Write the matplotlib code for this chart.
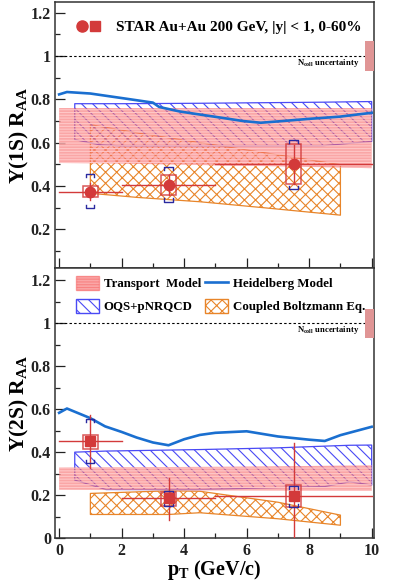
import matplotlib
matplotlib.use("Agg")
import matplotlib.pyplot as plt
import numpy as np
from matplotlib.patches import Rectangle, Patch
from matplotlib.lines import Line2D
from matplotlib.legend_handler import HandlerTuple
from matplotlib.ticker import MultipleLocator, FuncFormatter

plt.rcParams['font.family'] = ['Liberation Serif', 'DejaVu Serif']
plt.rcParams['font.weight'] = 'bold'
plt.rcParams['mathtext.fontset'] = 'custom'
plt.rcParams['mathtext.rm'] = 'Liberation Serif:bold'
plt.rcParams['mathtext.it'] = 'Liberation Serif:bold:italic'
plt.rcParams['mathtext.bf'] = 'Liberation Serif:bold'
plt.rcParams['hatch.linewidth'] = 0.8

# ---------------- data ----------------
pt = [1.0, 3.5, 7.5]
pt_lo = [0.0, 2.0, 5.0]
pt_hi = [2.0, 5.0, 10.0]

# Upsilon(1S)
raa1 = [0.373, 0.405, 0.50]
stat1 = [0.04, 0.045, 0.09]
sys1_lo = [0.35, 0.358, 0.409]
sys1_hi = [0.40, 0.452, 0.595]
ncs1_lo = [0.298, 0.327, 0.386]
ncs1_hi = [0.456, 0.488, 0.614]

# Upsilon(2S)
raa2 = [0.45, 0.185, 0.197]
stat2_lo = [0.326, 0.085, 0.0]
stat2_hi = [0.572, 0.279, 0.443]
sys2_lo = [0.415, 0.150, 0.143]
sys2_hi = [0.480, 0.215, 0.248]
ncs2_lo = [0.349, 0.149, 0.144]
ncs2_hi = [0.553, 0.220, 0.243]

ncoll_unc = 0.068

# Models, Upsilon(1S)
heid1_pt = [0.0, 0.25, 1.0, 2.15, 3.0, 3.2, 3.86, 4.5, 5.2, 5.88, 6.45, 7.16, 8.0, 8.97, 10.0]
heid1_r = [0.823, 0.834, 0.827, 0.803, 0.785, 0.765, 0.744, 0.73, 0.715, 0.70, 0.692, 0.70, 0.71, 0.72, 0.738]

oqs1_pt = [0.5, 1.3, 2.0, 4.5, 8.45, 10.0]
oqs1_lo = [0.614, 0.59, 0.585, 0.585, 0.586, 0.606]
oqs1_hi = [0.780, 0.780, 0.780, 0.782, 0.787, 0.790]

trans1_pt = [0.0, 2.0, 4.0, 6.0, 8.0, 10.0]
trans1_lo = [0.506, 0.503, 0.498, 0.493, 0.488, 0.482]
trans1_hi = [0.760, 0.760, 0.760, 0.760, 0.760, 0.760]

cbe1_pt = [1.0, 2.5, 4.5, 6.5, 9.0]
cbe1_lo = [0.366, 0.347, 0.327, 0.300, 0.265]
cbe1_hi = [0.683, 0.645, 0.600, 0.555, 0.498]

# Models, Upsilon(2S)
heid2_pt = [0.0, 0.25, 1.0, 1.47, 2.0, 2.48, 3.0, 3.5, 4.0, 4.5, 5.0, 6.0, 7.0, 8.0, 8.5, 9.0, 10.0]
heid2_r = [0.583, 0.603, 0.558, 0.52, 0.494, 0.468, 0.445, 0.432, 0.46, 0.48, 0.49, 0.497, 0.473, 0.458, 0.452, 0.479, 0.518]

oqs2_pt = [0.5, 1.5, 4.5, 7.0, 8.5, 9.3, 10.0]
oqs2_lo = [0.270, 0.226, 0.226, 0.235, 0.240, 0.262, 0.247]
oqs2_hi = [0.400, 0.405, 0.412, 0.420, 0.428, 0.432, 0.433]

trans2_pt = [0.0, 5.0, 10.0]
trans2_lo = [0.225, 0.222, 0.220]
trans2_hi = [0.328, 0.332, 0.338]

cbe2_pt = [1.0, 3.5, 4.5, 7.0, 9.0]
cbe2_lo = [0.110, 0.110, 0.118, 0.090, 0.060]
cbe2_hi = [0.208, 0.220, 0.218, 0.167, 0.107]

# ---------------- style ----------------
RED = '#d33a3a'
NAVY = '#2a2aa0'
BLUE_LINE = '#1a6fd0'
OQS_C = '#4a4af5'
ORANGE = '#e8852a'
TRANS_FACE = (0.97, 0.42, 0.42, 0.6)
TRANS_HATCH = (1.0, 0.78, 0.78)
NCOLL_C = '#e09595'

fig = plt.figure(figsize=(3.99, 5.83), dpi=100)
ax1 = fig.add_axes([0.138, 0.540, 0.799, 0.4566])
ax2 = fig.add_axes([0.138, 0.077, 0.799, 0.463])

XLIM = (-0.13, 10.07)
box_hw = 0.25
br_hw = 0.13
br_tick = 0.015


def draw_models(ax, cbe_pt, cbe_lo, cbe_hi, oqs_pt, oqs_lo, oqs_hi,
                tr_pt, tr_lo, tr_hi, h_pt, h_r):
    ax.fill_between(cbe_pt, cbe_lo, cbe_hi, facecolor='none', edgecolor=ORANGE,
                    hatch='xxx', linewidth=0.9, zorder=1)
    ax.fill_between(oqs_pt, oqs_lo, oqs_hi, facecolor='none', edgecolor=OQS_C,
                    hatch='\\\\\\', linewidth=0.9, zorder=2)
    ax.fill_between(tr_pt, tr_lo, tr_hi, facecolor=TRANS_FACE, edgecolor=TRANS_HATCH,
                    hatch='------', linewidth=0, zorder=3)
    ax.plot(h_pt, h_r, color=BLUE_LINE, lw=1.9, zorder=4)


def draw_data(ax, r, s_lo, s_hi, y_lo, y_hi, n_lo, n_hi, marker):
    for i in range(len(pt)):
        ax.plot([pt_lo[i], pt_hi[i]], [r[i], r[i]], color=RED, lw=1.0, zorder=6)
        ax.plot([pt[i], pt[i]], [s_lo[i], s_hi[i]], color=RED, lw=1.0, zorder=6)
        ax.add_patch(Rectangle((pt[i] - box_hw, y_lo[i]), 2 * box_hw, y_hi[i] - y_lo[i],
                               facecolor='none', edgecolor=RED, lw=1.1, alpha=0.85, zorder=6))
        # blue brackets
        ax.plot([pt[i] - br_hw, pt[i] - br_hw, pt[i] + br_hw, pt[i] + br_hw],
                [n_hi[i] - br_tick, n_hi[i], n_hi[i], n_hi[i] - br_tick], color=NAVY, lw=1.0, zorder=6)
        ax.plot([pt[i] - br_hw, pt[i] - br_hw, pt[i] + br_hw, pt[i] + br_hw],
                [n_lo[i] + br_tick, n_lo[i], n_lo[i], n_lo[i] + br_tick], color=NAVY, lw=1.0, zorder=6)
    ax.plot(pt, r, ls='none', marker=marker, ms=7.5 if marker == 'o' else 7,
            color=RED, mec=RED, zorder=7)


def style_axis(ax, ylim, show_x):
    ax.set_xlim(*XLIM)
    ax.set_ylim(*ylim)
    ax.xaxis.set_major_locator(MultipleLocator(2))
    ax.xaxis.set_minor_locator(MultipleLocator(1))
    ax.yaxis.set_major_locator(MultipleLocator(0.2))
    ax.yaxis.set_minor_locator(MultipleLocator(0.1))
    ax.yaxis.set_major_formatter(FuncFormatter(lambda v, p: '%g' % round(v, 3)))
    ax.xaxis.set_major_formatter(FuncFormatter(lambda v, p: '%g' % round(v, 3)))
    ax.tick_params(which='both', direction='in', top=False, right=False,
                   labelsize=11.5, width=0.9, colors='#222222')
    ax.tick_params(which='major', length=7)
    ax.tick_params(which='minor', length=3.5)
    ax.tick_params(axis='y', pad=3)
    for lab in ax.get_xticklabels() + ax.get_yticklabels():
        lab.set_fontweight('bold')
    if not show_x:
        ax.tick_params(axis='x', labelbottom=False)
    for sp in ax.spines.values():
        sp.set_linewidth(1.1)
        sp.set_color('#333333')
    ax.axhline(1.0, color='black', ls=(0, (2.2, 2.0)), lw=0.8, zorder=5)
    ax.fill_between([9.78, XLIM[1]], 1 - ncoll_unc, 1 + ncoll_unc, color=NCOLL_C,
                    linewidth=0, zorder=5)
    ax.text(8.6, 0.97, r'N$_{\rm coll}$ uncertainty', fontsize=6.2, fontweight='bold',
            ha='center', va='center', zorder=6)


# Top panel
draw_models(ax1, cbe1_pt, cbe1_lo, cbe1_hi, oqs1_pt, oqs1_lo, oqs1_hi,
            trans1_pt, trans1_lo, trans1_hi, heid1_pt, heid1_r)
draw_data(ax1, raa1, [r - s for r, s in zip(raa1, stat1)], [r + s for r, s in zip(raa1, stat1)],
          sys1_lo, sys1_hi, ncs1_lo, ncs1_hi, 'o')
style_axis(ax1, (0.02, 1.25), False)
ax1.set_ylabel('Υ(1S) R$_{\\rm AA}$', fontsize=15.5, fontweight='bold', labelpad=0)

# Bottom panel
draw_models(ax2, cbe2_pt, cbe2_lo, cbe2_hi, oqs2_pt, oqs2_lo, oqs2_hi,
            trans2_pt, trans2_lo, trans2_hi, heid2_pt, heid2_r)
draw_data(ax2, raa2, stat2_lo, stat2_hi, sys2_lo, sys2_hi, ncs2_lo, ncs2_hi, 's')
style_axis(ax2, (0.0, 1.256), True)
ax2.set_ylabel('Υ(2S) R$_{\\rm AA}$', fontsize=15.5, fontweight='bold', labelpad=0)
ax2.set_xlabel(r'p$_{\rm T}$ (GeV/c)', fontsize=14.5, fontweight='bold', labelpad=-1)

# STAR legend (top)
h_c = Line2D([], [], ls='none', marker='o', ms=8, color=RED)
h_s = Line2D([], [], ls='none', marker='s', ms=7, color=RED)
leg1 = ax1.legend([(h_c, h_s)], ['STAR Au+Au 200 GeV, |y| < 1, 0-60%'],
                  handler_map={tuple: HandlerTuple(ndivide=None, pad=0.2)},
                  loc='center left', bbox_to_anchor=(0.07, 0.905), frameon=False,
                  prop={'weight': 'bold', 'size': 11}, handlelength=1.5, handletextpad=1.0,
                  borderpad=0, borderaxespad=0)

# Model legend (bottom)
hp_tr = Patch(facecolor=TRANS_FACE, edgecolor=(0.97, 0.42, 0.42, 0.6), hatch='------')
hp_oqs = Patch(facecolor='white', edgecolor=OQS_C, hatch='\\\\\\')
hp_h = Line2D([], [], color=BLUE_LINE, lw=1.9)
hp_cbe = Patch(facecolor='white', edgecolor=ORANGE, hatch='xxx')
leg2 = ax2.legend([hp_tr, hp_oqs, hp_h, hp_cbe],
                  ['Transport  Model', 'OQS+pNRQCD', 'Heidelberg Model', 'Coupled Boltzmann Eq.'],
                  ncol=2, loc='upper left', bbox_to_anchor=(0.066, 0.972), frameon=False,
                  prop={'weight': 'bold', 'size': 9.3}, handlelength=1.75, handleheight=1.35,
                  handletextpad=0.4, columnspacing=0.3, labelspacing=0.65,
                  borderpad=0, borderaxespad=0)

fig.savefig('out.png', dpi=100)
